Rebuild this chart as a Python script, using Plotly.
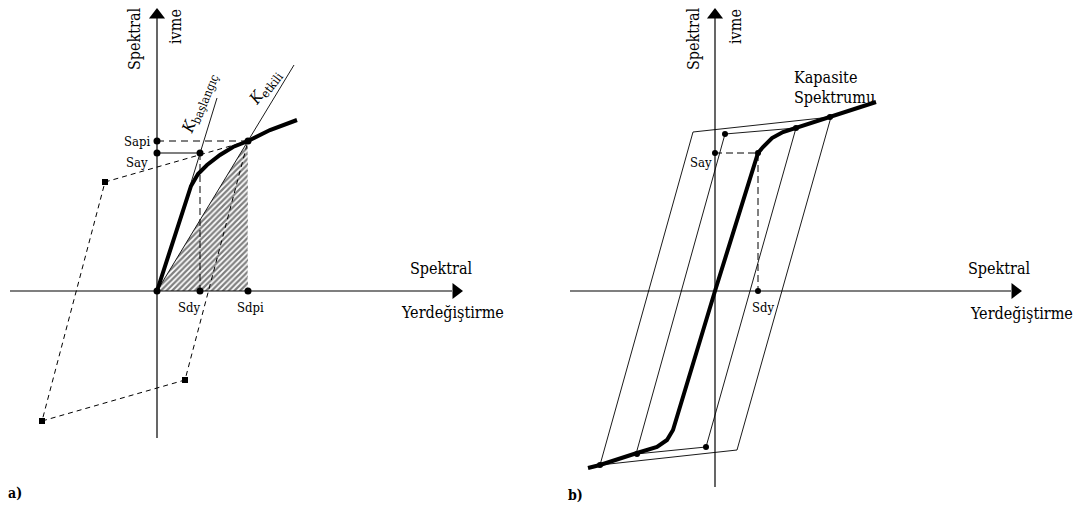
import plotly.graph_objects as go

# ---------------- data (schematic coordinates, screen units) ----------------
# Panel a
axis_a_v_x = [157, 157]; axis_a_v_y = [16, 438]
axis_a_h_x = [10, 452]; axis_a_h_y = [291, 291]
cap_a_x = [157, 191, 198, 207, 220, 233, 248, 270, 297]
cap_a_y = [291, 186, 174, 165, 155, 147, 141, 130, 120]
hatch_x = [157, 248, 248, 157]
hatch_y = [291, 141, 291, 291]
secant_x = [157, 294]; secant_y = [291, 65]
kinit_x = [190, 217]; kinit_y = [186, 98]
loop_a_x = [248, 105, 42, 185, 248]
loop_a_y = [141, 182, 421, 380, 141]
sapi_x = [157, 248]; sapi_y = [141, 141]
say_x = [157, 200]; say_y = [153, 153]
sdy_x = [200, 200]; sdy_y = [153, 291]
sdpi_x = [248, 248]; sdpi_y = [141, 291]
dots_a_x = [157, 200, 248, 157, 157, 200, 248]
dots_a_y = [291, 291, 291, 141, 153, 153, 141]
sq_a_x = [105, 42, 185]; sq_a_y = [182, 421, 380]

# Panel b
axis_b_v_x = [715, 715]; axis_b_v_y = [16, 487]
axis_b_h_x = [570, 1011]; axis_b_h_y = [291, 291]
cap_b_x = [588, 600, 637, 657, 667, 673, 715, 758, 763, 772, 783, 795, 830, 850, 876]
cap_b_y = [468, 465, 453, 447, 440, 430, 291, 153, 147, 138, 132, 128, 117, 110, 102]
big_loop_x = [693, 831, 737, 600, 693]
big_loop_y = [132, 117, 450, 465, 132]
mid_loop_x = [725, 796, 706, 636, 725]
mid_loop_y = [134, 128, 447, 454, 134]
say_b_x = [715, 758, 758]; say_b_y = [153, 153, 291]
dots_b_x = [715, 758, 758, 725, 706, 600, 637, 796, 830]
dots_b_y = [153, 153, 291, 134, 447, 465, 454, 128, 117]

FONT = "DejaVu Serif Condensed, DejaVu Serif"
OFF = 8  # page body margin compensation

fig = go.Figure()

def line(x, y, w=1, dash="solid", color="black"):
    fig.add_trace(go.Scatter(x=x, y=y, mode="lines",
                             line=dict(color=color, width=w, dash=dash),
                             hoverinfo="skip", showlegend=False))

# hatched area
fig.add_trace(go.Scatter(x=hatch_x, y=hatch_y, mode="lines", fill="toself",
                         line=dict(width=0, color="rgba(0,0,0,0)"),
                         fillcolor="white",
                         fillpattern=dict(shape="/", fgcolor="black", bgcolor="white",
                                          size=4, solidity=0.55),
                         hoverinfo="skip", showlegend=False))

# panel a
line(axis_a_v_x, axis_a_v_y, 1.2)
line(axis_a_h_x, axis_a_h_y, 1.2)
line(secant_x, secant_y, 0.9)
line(kinit_x, kinit_y, 0.9)
line(loop_a_x, loop_a_y, 1, "5px,4px")
line(sapi_x, sapi_y, 1, "7px,5px")
line(say_x, say_y, 1.2)
line(sdy_x, sdy_y, 1, "7px,4px")
line(sdpi_x, sdpi_y, 0.8, "5px,3px", "white")
line(cap_a_x, cap_a_y, 4)
fig.add_trace(go.Scatter(x=dots_a_x, y=dots_a_y, mode="markers",
                         marker=dict(color="black", size=7), hoverinfo="skip", showlegend=False))
fig.add_trace(go.Scatter(x=sq_a_x, y=sq_a_y, mode="markers",
                         marker=dict(color="black", size=6, symbol="square"),
                         hoverinfo="skip", showlegend=False))

# panel b
line(axis_b_v_x, axis_b_v_y, 1.2)
line(axis_b_h_x, axis_b_h_y, 1.2)
line(big_loop_x, big_loop_y, 0.9)
line(mid_loop_x, mid_loop_y, 0.9)
line(say_b_x, say_b_y, 1, "7px,4px")
line(cap_b_x, cap_b_y, 4)
fig.add_trace(go.Scatter(x=dots_b_x, y=dots_b_y, mode="markers",
                         marker=dict(color="black", size=6), hoverinfo="skip", showlegend=False))

# arrow heads
fig.add_trace(go.Scatter(x=[157, 715], y=[15, 15], mode="markers",
                         marker=dict(symbol="triangle-up", size=14, color="black"),
                         hoverinfo="skip", showlegend=False))
fig.add_trace(go.Scatter(x=[456, 1015], y=[291, 291], mode="markers",
                         marker=dict(symbol="triangle-right", size=14, color="black"),
                         hoverinfo="skip", showlegend=False))

def txt(x, y, s, size=16, angle=0, xanchor="center", bold=False):
    if bold:
        s = "<b>" + s + "</b>"
    fig.add_annotation(x=x, y=y, text=s, showarrow=False, textangle=angle,
                       xanchor=xanchor, yanchor="middle",
                       font=dict(family=FONT, size=size, color="black"))

# panel a texts
txt(134, 39, "Spektral", 16, -90)
txt(175, 27, "ivme", 16, -90)
txt(441, 268, "Spektral", 16)
txt(452, 312, "Yerdeğiştirme", 16)
txt(137, 141, "Sapi", 13)
txt(137, 162, "Say", 13)
txt(189, 307, "Sdy", 13)
txt(250, 307, "Sdpi", 13)
txt(199, 103, "<i>K</i><sub><span style='font-size:12px'>başlangıç</span></sub>", 16, -68)
txt(265, 87, "<i>K</i><sub><span style='font-size:12px'>etkili</span></sub>", 16, -52)
txt(15, 493, "a)", 14, bold=True)

# panel b texts
txt(693, 39, "Spektral", 16, -90)
txt(735, 27, "ivme", 16, -90)
txt(999, 268, "Spektral", 16)
txt(1021, 313, "Yerdeğiştirme", 16)
txt(792, 77, "Kapasite", 16, xanchor="left")
txt(792, 97, "Spektrumu", 16, xanchor="left")
txt(701, 162, "Say", 13)
txt(763, 307, "Sdy", 13)
txt(575, 495, "b)", 14, bold=True)

fig.update_layout(width=1086, height=521, margin=dict(l=0, r=0, t=0, b=0),
                  paper_bgcolor="white", plot_bgcolor="white",
                  xaxis=dict(range=[OFF, 1086 + OFF], visible=False, fixedrange=True),
                  yaxis=dict(range=[521 + OFF, OFF], visible=False, fixedrange=True))

fig.write_html("out.html")
